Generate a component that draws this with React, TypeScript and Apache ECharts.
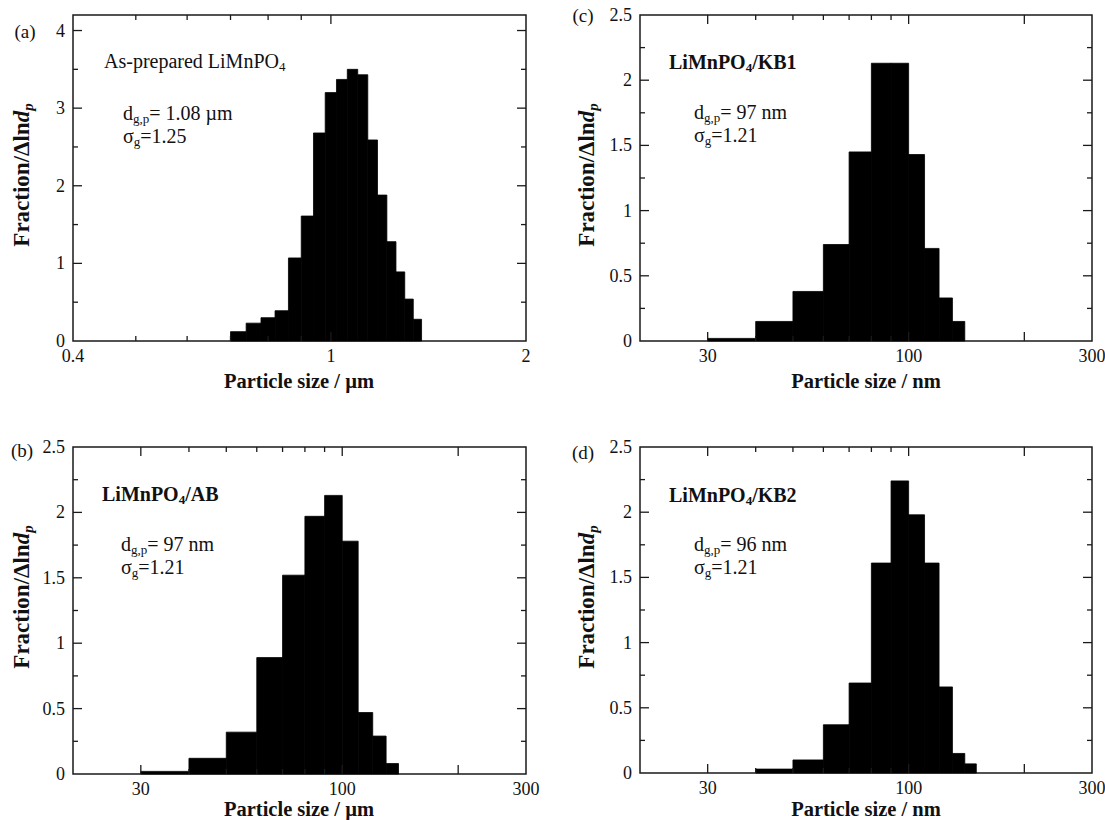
import React, { useEffect, useRef } from "react";
import * as echarts from "echarts";

// ---------- data ----------
// (a) As-prepared LiMnPO4, particle size in µm
const binEdgesA = [0.7, 0.74, 0.78, 0.82, 0.86, 0.9, 0.94, 0.98, 1.02, 1.06, 1.1, 1.14, 1.18, 1.22, 1.26, 1.3, 1.34, 1.38];
const valuesA = [0.12, 0.23, 0.3, 0.39, 1.07, 1.61, 2.68, 3.2, 3.37, 3.5, 3.43, 2.59, 1.88, 1.28, 0.89, 0.54, 0.28];
// (b) LiMnPO4/AB
const binEdgesB = [30, 40, 50, 60, 70, 80, 90, 100, 110, 120, 130, 140];
const valuesB = [0.02, 0.12, 0.32, 0.89, 1.52, 1.97, 2.13, 1.78, 0.47, 0.29, 0.08];
// (c) LiMnPO4/KB1
const binEdgesC = [30, 40, 50, 60, 70, 80, 90, 100, 110, 120, 130, 140];
const valuesC = [0.02, 0.15, 0.38, 0.74, 1.45, 2.13, 2.13, 1.43, 0.71, 0.33, 0.15];
// (d) LiMnPO4/KB2
const binEdgesD = [40, 50, 60, 70, 80, 90, 100, 110, 120, 130, 140, 150];
const valuesD = [0.03, 0.1, 0.37, 0.69, 1.61, 2.24, 1.98, 1.61, 0.66, 0.15, 0.07];

// tick marks and labels
const xMinorUm = [0.5, 0.6, 0.7, 0.8, 0.9];
const xMajorUm = [1];
const xLabelsUm = [0.4, 1, 2];
const xMinorNm = [40, 50, 60, 70, 80, 90];
const xMajorNm = [30, 100, 200];
const xLabelsNm = [30, 100, 300];
const yMajorA = [1, 2, 3, 4];
const yMinorA = [0.5, 1.5, 2.5, 3.5];
const yMajorB = [0.5, 1, 1.5, 2];
const yMinorB = [0.25, 0.75, 1.25, 1.75, 2.25];

const FONT = '"Liberation Serif", "Times New Roman", serif';
const INK = "#111";
const TICK_FONT = 18;
const XTITLE_FONT = 20.5;

type Panel = {
  grid: { left: number; top: number; width: number; height: number };
  xMin: number; xMax: number; yMax: number; yStep: number;
  edges: number[]; values: number[];
  xMinor: number[]; xMajor: number[]; xLabels: number[];
  yMajor: number[]; yMinor: number[];
};

const panels: Panel[] = [
  { grid: { left: 73, top: 15, width: 453, height: 326 }, xMin: 0.4, xMax: 2, yMax: 4.2, yStep: 1,
    edges: binEdgesA, values: valuesA, xMinor: xMinorUm, xMajor: xMajorUm, xLabels: xLabelsUm, yMajor: yMajorA, yMinor: yMinorA },
  { grid: { left: 73, top: 447, width: 453, height: 327 }, xMin: 20, xMax: 300, yMax: 2.5, yStep: 0.5,
    edges: binEdgesB, values: valuesB, xMinor: xMinorNm, xMajor: xMajorNm, xLabels: xLabelsNm, yMajor: yMajorB, yMinor: yMinorB },
  { grid: { left: 640, top: 15, width: 452, height: 326 }, xMin: 20, xMax: 300, yMax: 2.5, yStep: 0.5,
    edges: binEdgesC, values: valuesC, xMinor: xMinorNm, xMajor: xMajorNm, xLabels: xLabelsNm, yMajor: yMajorB, yMinor: yMinorB },
  { grid: { left: 640, top: 447, width: 452, height: 326 }, xMin: 20, xMax: 300, yMax: 2.5, yStep: 0.5,
    edges: binEdgesD, values: valuesD, xMinor: xMinorNm, xMajor: xMajorNm, xLabels: xLabelsNm, yMajor: yMajorB, yMinor: yMinorB },
];

type TickItem = { axis: "x" | "y"; v: number; len: number; label?: string };

function buildTicks(p: Panel): TickItem[] {
  const items: TickItem[] = [];
  p.xMinor.forEach((v) => items.push({ axis: "x", v, len: 5 }));
  p.xMajor.forEach((v) => items.push({ axis: "x", v, len: 9 }));
  p.xLabels.forEach((v) => items.push({ axis: "x", v, len: 0, label: String(v) }));
  p.yMinor.forEach((v) => items.push({ axis: "y", v, len: 5 }));
  p.yMajor.forEach((v) => items.push({ axis: "y", v, len: 9 }));
  return items;
}

const regular = { fontFamily: FONT, fontSize: 20, lineHeight: 24, fill: INK };
const sub = { fontFamily: FONT, fontSize: 13, lineHeight: 14, verticalAlign: "bottom", fill: INK };
const bold = { fontFamily: FONT, fontSize: 20, fontWeight: "bold", lineHeight: 24, fill: INK };
const boldSub = { fontFamily: FONT, fontSize: 13, fontWeight: "bold", lineHeight: 14, verticalAlign: "bottom", fill: INK };
const richAll = {
  r: regular, s: sub, b: bold, bs: boldSub,
  t: { fontFamily: FONT, fontSize: 23, fontWeight: "bold", lineHeight: 28, fill: INK },
  ti: { fontFamily: FONT, fontSize: 23, fontWeight: "bold", fontStyle: "italic", lineHeight: 28, fill: INK },
  tis: { fontFamily: FONT, fontSize: 15, fontWeight: "bold", fontStyle: "italic", lineHeight: 16, verticalAlign: "bottom", fill: INK },
};

function txt(text: string, x: number, y: number, align = "left", rotation = 0) {
  return {
    type: "text", x, y, rotation, silent: true,
    style: { text, rich: richAll, align, verticalAlign: "middle", fontFamily: FONT, fill: INK },
  };
}

function plain(text: string, x: number, y: number, size: number, weight = "normal") {
  return {
    type: "text", x, y, silent: true,
    style: { text, fontFamily: FONT, fontSize: size, fontWeight: weight, fill: INK, align: "center", verticalAlign: "middle" },
  };
}

const yTitle = "{t|Fraction/Δln}{ti|d}{tis|p}";

const graphics = [
  plain("(a)", 25, 31, 19), plain("(b)", 22, 450, 19), plain("(c)", 583, 15, 19), plain("(d)", 583, 452, 19),
  txt(yTitle, 21, 175, "center", Math.PI / 2),
  txt(yTitle, 21, 597, "center", Math.PI / 2),
  txt(yTitle, 586, 175, "center", Math.PI / 2),
  txt(yTitle, 586, 597, "center", Math.PI / 2),
  plain("Particle size / µm", 299, 381, XTITLE_FONT, "bold"),
  plain("Particle size / µm", 299, 809, XTITLE_FONT, "bold"),
  plain("Particle size / nm", 866, 381, XTITLE_FONT, "bold"),
  plain("Particle size / nm", 866, 809, XTITLE_FONT, "bold"),
  txt("{r|As-prepared LiMnPO}{s|4}", 104, 61),
  txt("{r|d}{s|g,p}{r|= 1.08 µm}", 123, 113),
  txt("{r|σ}{s|g}{r|=1.25}", 123, 136),
  txt("{b|LiMnPO}{bs|4}{b|/AB}", 102, 494),
  txt("{r|d}{s|g,p}{r|= 97 nm}", 121, 544),
  txt("{r|σ}{s|g}{r|=1.21}", 121, 567),
  txt("{b|LiMnPO}{bs|4}{b|/KB1}", 669, 62),
  txt("{r|d}{s|g,p}{r|= 97 nm}", 694, 112),
  txt("{r|σ}{s|g}{r|=1.21}", 694, 135),
  txt("{b|LiMnPO}{bs|4}{b|/KB2}", 669, 495),
  txt("{r|d}{s|g,p}{r|= 96 nm}", 694, 544),
  txt("{r|σ}{s|g}{r|=1.21}", 694, 567),
];

function buildOption() {
  const series: any[] = [];
  panels.forEach((p, i) => {
    series.push({
      type: "custom",
      xAxisIndex: i,
      yAxisIndex: i,
      silent: true,
      data: p.values.map((v, k) => [p.edges[k], p.edges[k + 1], v]),
      encode: { x: [0, 1], y: 2 },
      renderItem: (_params: any, api: any) => {
        const a = api.coord([api.value(0), api.value(2)]);
        const b = api.coord([api.value(1), 0]);
        return {
          type: "rect",
          shape: { x: a[0], y: a[1], width: b[0] - a[0], height: b[1] - a[1] },
          style: { fill: "#000", stroke: "#000", lineWidth: 0.8 },
        };
      },
    });
    const ticks = buildTicks(p);
    series.push({
      type: "custom",
      xAxisIndex: i,
      yAxisIndex: i,
      silent: true,
      clip: false,
      data: ticks.map((t) => (t.axis === "x" ? [t.v, 0] : [p.xMin, t.v])),
      encode: { x: 0, y: 1 },
      renderItem: (params: any, api: any) => {
        const t = ticks[params.dataIndex];
        const lineStyle = { stroke: "#1a1a1a", lineWidth: 1.3 };
        const children: any[] = [];
        if (t.axis === "x") {
          const b = api.coord([t.v, 0]);
          const tp = api.coord([t.v, p.yMax]);
          if (t.len > 0) {
            children.push({ type: "line", shape: { x1: b[0], y1: b[1], x2: b[0], y2: b[1] - t.len }, style: lineStyle });
            children.push({ type: "line", shape: { x1: tp[0], y1: tp[1], x2: tp[0], y2: tp[1] + t.len }, style: lineStyle });
          }
          if (t.label) {
            children.push({
              type: "text", x: b[0], y: b[1] + 6,
              style: { text: t.label, fontFamily: FONT, fontSize: TICK_FONT, fill: INK, align: "center", verticalAlign: "top" },
            });
          }
        } else {
          const l = api.coord([p.xMin, t.v]);
          const r = api.coord([p.xMax, t.v]);
          children.push({ type: "line", shape: { x1: l[0], y1: l[1], x2: l[0] + t.len, y2: l[1] }, style: lineStyle });
          children.push({ type: "line", shape: { x1: r[0], y1: r[1], x2: r[0] - t.len, y2: r[1] }, style: lineStyle });
        }
        return { type: "group", children };
      },
    });
  });

  return {
    animation: false,
    backgroundColor: "#fff",
    grid: panels.map((p) => ({ ...p.grid, show: true, borderColor: "#1a1a1a", borderWidth: 1.5, backgroundColor: "transparent" })),
    xAxis: panels.map((p, i) => ({
      type: "log", logBase: 10, gridIndex: i, min: p.xMin, max: p.xMax,
      axisLine: { show: false }, axisTick: { show: false }, axisLabel: { show: false }, splitLine: { show: false },
    })),
    yAxis: panels.map((p, i) => ({
      type: "value", gridIndex: i, min: 0, max: p.yMax, interval: p.yStep,
      axisLine: { show: false }, axisTick: { show: false }, splitLine: { show: false },
      axisLabel: {
        margin: 8, fontFamily: FONT, fontSize: TICK_FONT, color: INK,
        formatter: (v: number) => (Math.abs(v / p.yStep - Math.round(v / p.yStep)) < 1e-6 ? String(v) : ""),
      },
    })),
    series,
    graphic: graphics,
  };
}

export default function App() {
  const ref = useRef<HTMLDivElement>(null);
  useEffect(() => {
    if (!ref.current) return;
    const chart = echarts.init(ref.current, null, { renderer: "svg" });
    chart.setOption(buildOption() as any);
    return () => chart.dispose();
  }, []);
  return (
    <div
      ref={ref}
      style={{ position: "fixed", left: 0, top: 0, width: 1105, height: 820, background: "#fff" }}
    />
  );
}
